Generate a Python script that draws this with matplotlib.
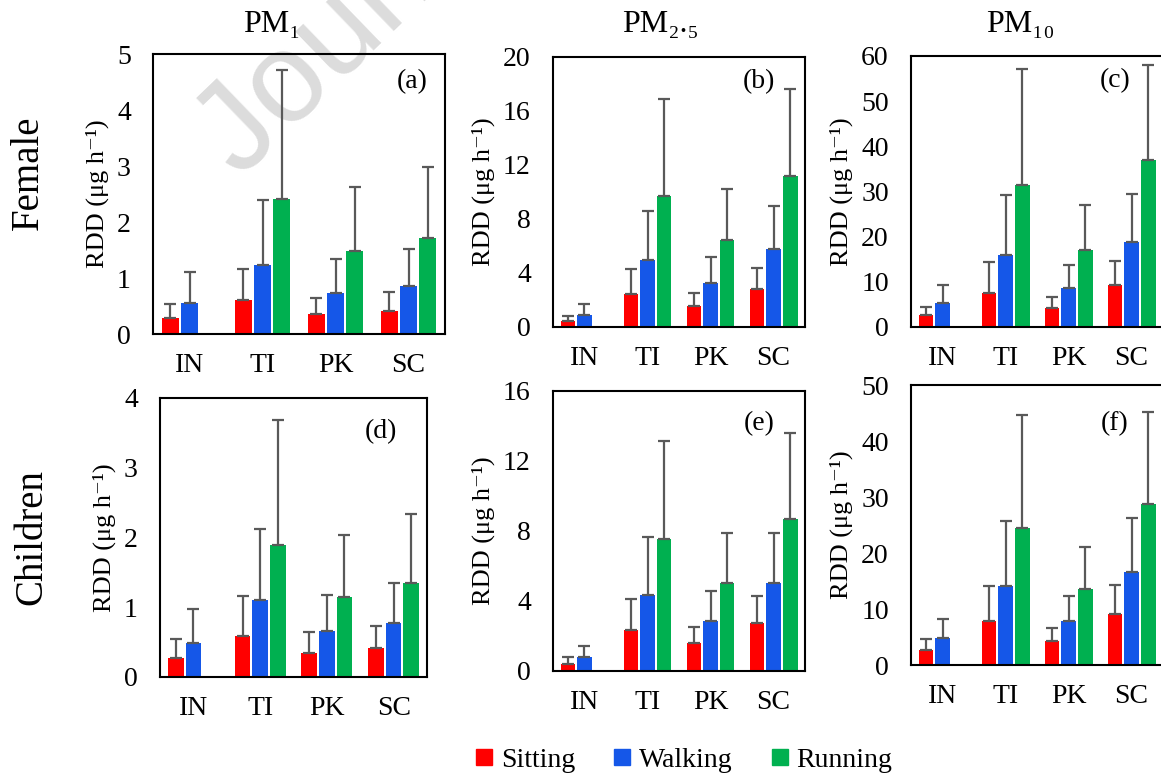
import numpy as np
import matplotlib
matplotlib.use("Agg")
import matplotlib.pyplot as plt
from matplotlib.lines import Line2D

plt.rcParams['font.family'] = ['Liberation Serif', 'DejaVu Serif']

sites = ["IN", "TI", "PK", "SC"]
activities = ["Sitting", "Walking", "Running"]
colors = ["#FF0000", "#1557E8", "#00B050"]

# means (rows: Sitting, Walking, Running; cols: IN, TI, PK, SC) and mean+SD tops
a_mean = [[0.28, 0.61, 0.36, 0.42], [0.56, 1.23, 0.74, 0.86], [np.nan, 2.42, 1.48, 1.71]]
a_top = [[0.53, 1.17, 0.65, 0.75], [1.10, 2.40, 1.34, 1.51], [np.nan, 4.71, 2.63, 2.99]]
b_mean = [[0.42, 2.41, 1.58, 2.83], [0.89, 4.93, 3.25, 5.76], [np.nan, 9.70, 6.43, 11.2]]
b_top = [[0.84, 4.29, 2.51, 4.36], [1.70, 8.62, 5.20, 8.99], [np.nan, 16.9, 10.2, 17.6]]
c_mean = [[2.6, 7.6, 4.1, 9.2], [5.3, 15.9, 8.6, 18.9], [np.nan, 31.4, 17.1, 37.0]]
c_top = [[4.4, 14.3, 6.7, 14.6], [9.2, 29.3, 13.7, 29.5], [np.nan, 57.1, 27.1, 58.0]]
d_mean = [[0.27, 0.59, 0.35, 0.42], [0.49, 1.10, 0.66, 0.77], [np.nan, 1.89, 1.14, 1.34]]
d_top = [[0.54, 1.16, 0.64, 0.73], [0.97, 2.12, 1.18, 1.35], [np.nan, 3.68, 2.04, 2.33]]
e_mean = [[0.42, 2.36, 1.58, 2.74], [0.82, 4.36, 2.87, 5.00], [np.nan, 7.52, 5.00, 8.68]]
e_top = [[0.78, 4.13, 2.51, 4.30], [1.43, 7.63, 4.59, 7.86], [np.nan, 13.17, 7.86, 13.62]]
f_mean = [[2.7, 7.8, 4.3, 9.2], [4.8, 14.2, 7.8, 16.7], [np.nan, 24.5, 13.5, 28.8]]
f_top = [[4.6, 14.1, 6.7, 14.3], [8.3, 25.8, 12.3, 26.3], [np.nan, 44.7, 21.1, 45.2]]

panels = [
    ("(a)", a_mean, a_top, 5, 1, [0.1318, 0.5690, 0.2515, 0.3613], (0.887, 0.90)),
    ("(b)", b_mean, b_top, 20, 4, [0.4763, 0.5781, 0.2171, 0.3484], (0.817, 0.907)),
    ("(c)", c_mean, c_top, 60, 10, [0.7847, 0.5781, 0.2171, 0.3497], (0.81, 0.908)),
    ("(d)", d_mean, d_top, 4, 1, [0.1378, 0.1265, 0.2300, 0.3600], (0.828, 0.878)),
    ("(e)", e_mean, e_top, 16, 4, [0.4763, 0.1342, 0.2171, 0.3613], (0.817, 0.882)),
    ("(f)", f_mean, f_top, 50, 10, [0.7847, 0.1419, 0.2171, 0.3613], (0.806, 0.861)),
]

fig = plt.figure(figsize=(11.61, 7.75), dpi=100)

# faint journal watermark behind everything
fig.text(240 / 1161, 1 - 180 / 775, "Journal Pre-proof", fontsize=92, color="#dcdcdc",
         family="Liberation Sans", rotation=44, rotation_mode="anchor",
         ha="left", va="baseline", zorder=-5)

x = np.arange(len(sites))
width = 0.235
pitch = 0.263
for label, mean, top, ymax, step, rect, lpos in panels:
    ax = fig.add_axes(rect)
    ax.set_facecolor("none")
    for i in range(3):
        m = np.array(mean[i], dtype=float)
        t = np.array(top[i], dtype=float)
        xi = x + (i - 1) * pitch
        ax.bar(xi, m, width, color=colors[i], zorder=2)
        err = [np.zeros_like(m), t - m]
        ax.errorbar(xi, m, yerr=err, fmt="none", ecolor="#595959",
                    elinewidth=1.6, capsize=4, capthick=1.6, zorder=3)
    ax.set_xlim(-0.5, 3.5)
    ax.set_ylim(0, ymax)
    ax.set_yticks(np.arange(0, ymax + step / 2, step))
    ax.set_xticks(x)
    ax.set_xticklabels(sites)
    ax.tick_params(axis="both", length=0, labelsize=20)
    ax.tick_params(axis="x", pad=14)
    ax.tick_params(axis="y", pad=16)
    for s in ax.spines.values():
        s.set_linewidth(1.5)
    ax.set_ylabel("RDD (μg h⁻¹)", fontsize=19, labelpad=6)
    ax.text(lpos[0], lpos[1], label, transform=ax.transAxes, fontsize=20,
            ha="center", va="center")

fig.text(272 / 1161, 1 - 25 / 775, "PM₁", fontsize=23, ha="center", va="center")
fig.text(660 / 1161, 1 - 25 / 775, "PM₂.₅", fontsize=23, ha="center", va="center")
fig.text(1020 / 1161, 1 - 25 / 775, "PM₁₀", fontsize=23, ha="center", va="center")

fig.text(28 / 1161, 1 - 173 / 775, "Female", fontsize=28, rotation=90,
         ha="center", va="center")
fig.text(32 / 1161, 1 - 537 / 775, "Children", fontsize=28, rotation=90,
         ha="center", va="center")

handles = [Line2D([], [], marker="s", linestyle="none", markersize=12,
                  markerfacecolor=c, markeredgecolor=c) for c in colors]
fig.legend(handles, activities, loc="center", bbox_to_anchor=(0.587, 0.019),
           ncol=3, frameon=False, handletextpad=0.1,
           columnspacing=1.2, handlelength=1.0,
           prop={"family": ["Liberation Serif", "DejaVu Serif"], "size": 20})

fig.savefig("out.png", dpi=100)
